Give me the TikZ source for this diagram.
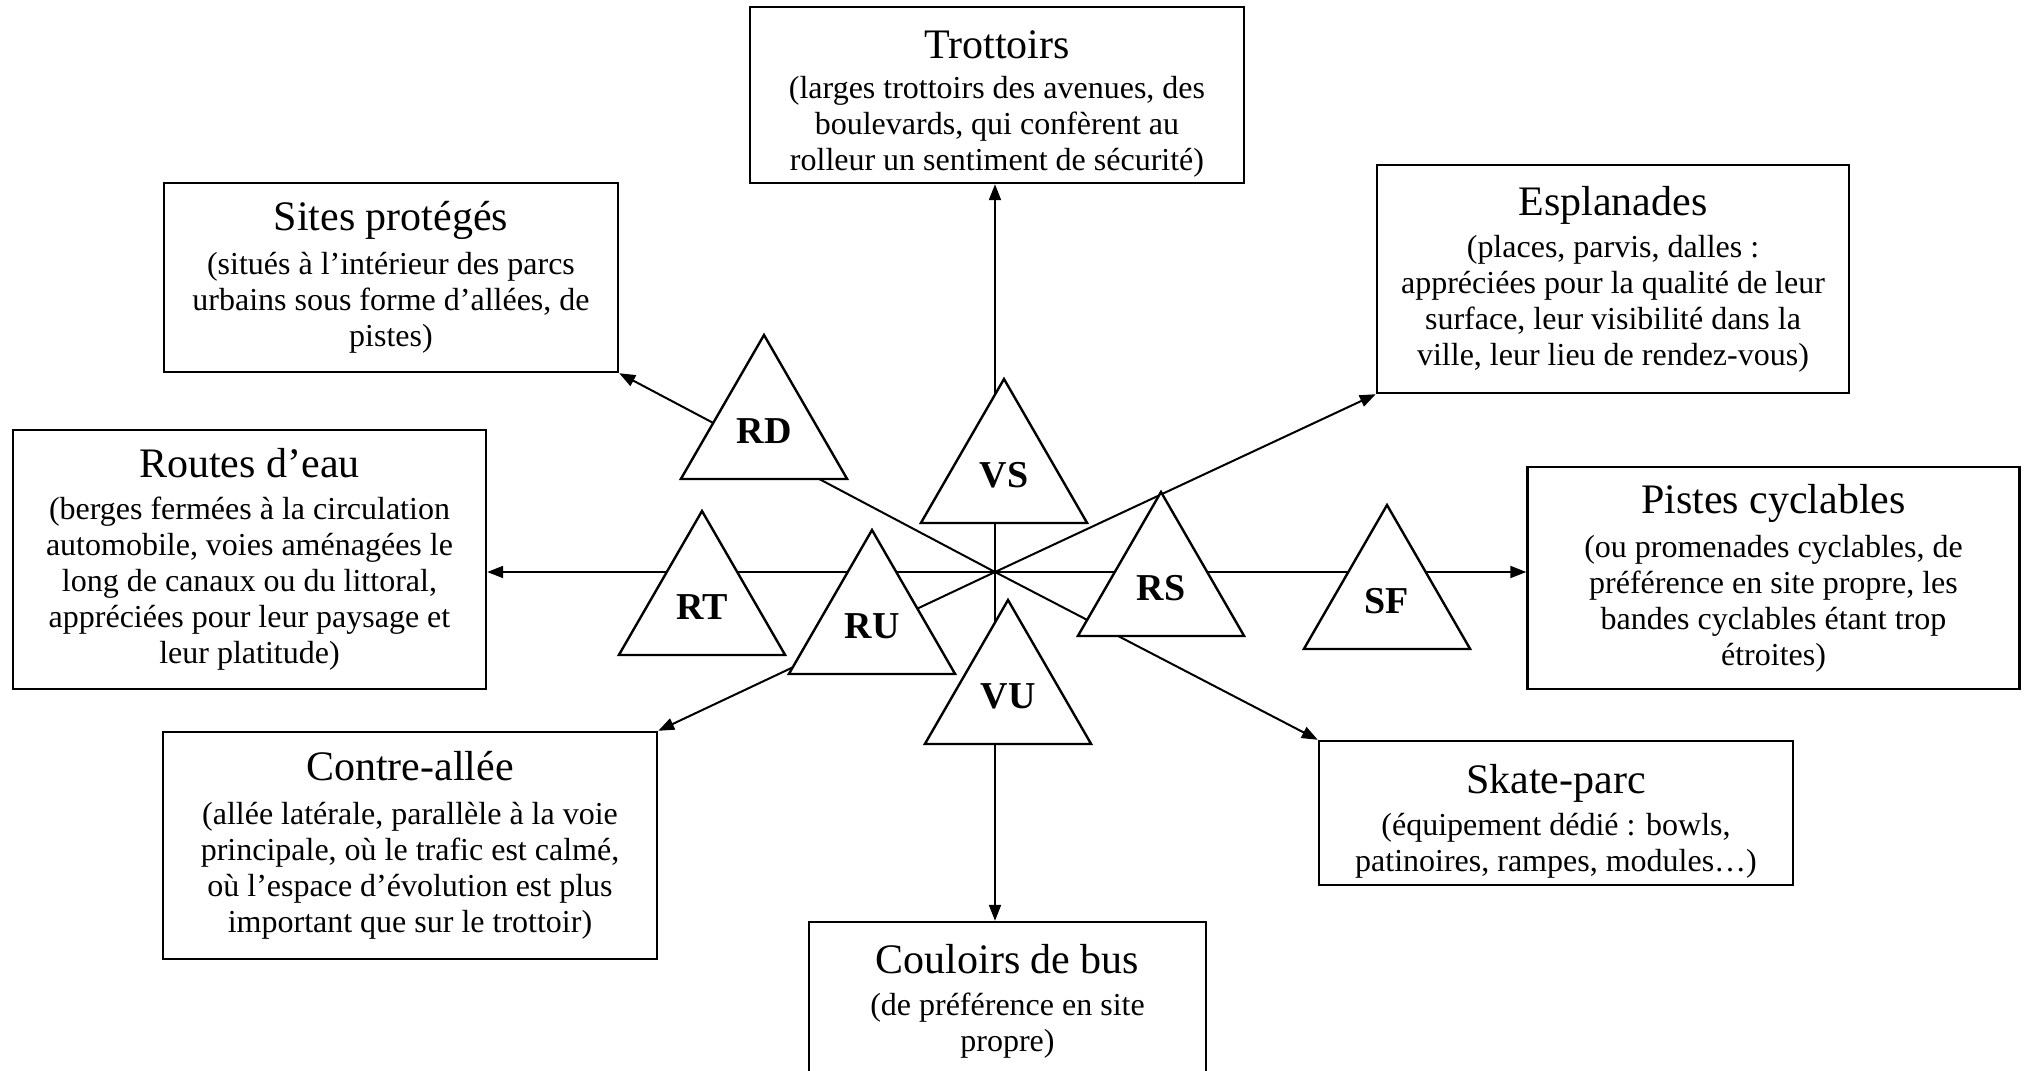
\documentclass[tikz,border=0pt]{standalone}
\usepackage{fontspec}
\setmainfont{Liberation Serif}
\usetikzlibrary{arrows.meta,shapes.geometric}
\newcommand\headfont{\fontsize{42}{46}\selectfont}
\newcommand\notefont{\fontsize{32}{36}\selectfont}
\begin{document}
\begin{tikzpicture}[x=1pt,y=-1pt,
  place/.style={draw, line width=2.4pt, rectangle, fill=white, inner sep=0pt,
    align=center, font=\notefont},
  link/.style={line width=2pt, -{Triangle[length=16pt,width=12pt]}},
  tri/.style={draw, line width=2.4pt, fill=white, regular polygon,
    regular polygon sides=3, minimum size=192pt, inner sep=0pt,
    font=\fontsize{38}{42}\selectfont\bfseries},
]
\useasboundingbox (0,0) rectangle (2027,1071);
\fill[white] (0,0) rectangle (2027,1071);

% destination boxes
\node[place, minimum width=494pt, minimum height=176pt] (trot) at (997,95)
  {{\headfont\rule{0pt}{45pt}Trottoirs}\\[4pt]
   (larges trottoirs des avenues, des\\
   boulevards, qui confèrent au\\
   rolleur un sentiment de sécurité)};
\node[place, minimum width=454pt, minimum height=189pt] (parc) at (391,277.5)
  {{\headfont Sites protégés}\\[8pt]
   (situés à l’intérieur des parcs\\
   urbains sous forme d’allées, de\\
   pistes)};
\node[place, minimum width=472pt, minimum height=228pt] (espl) at (1613,279)
  {{\headfont Esplanades}\\[6pt]
   (places, parvis, dalles :\\
   appréciées pour la qualité de leur\\
   surface, leur visibilité dans la\\
   ville, leur lieu de rendez-vous)};
\node[place, minimum width=473pt, minimum height=259pt] (eau) at (249.5,559.5)
  {{\headfont Routes d’eau}\\[6pt]
   (berges fermées à la circulation\\
   automobile, voies aménagées le\\
   long de canaux ou du littoral,\\
   appréciées pour leur paysage et\\
   leur platitude)};
\node[place, minimum width=492pt, minimum height=222pt] (velo) at (1773.5,578)
  {{\headfont Pistes cyclables}\\[8pt]
   (ou promenades cyclables, de\\
   préférence en site propre, les\\
   bandes cyclables étant trop\\
   étroites)};
\node[place, minimum width=494pt, minimum height=227pt] (contre) at (410,845.5)
  {{\headfont Contre-allée}\\[8pt]
   (allée latérale, parallèle à la voie\\
   principale, où le trafic est calmé,\\
   où l’espace d’évolution est plus\\
   important que sur le trottoir)};
\node[place, minimum width=474pt, minimum height=144pt] (skate) at (1556,813)
  {{\headfont\rule{0pt}{45pt}Skate-parc}\\[6pt]
   (équipement dédié : bowls,\\
   patinoires, rampes, modules…)};
\node[place, minimum width=397pt, minimum height=151pt] (bus) at (1007.5,997.5)
  {{\headfont\rule{0pt}{36pt}Couloirs de bus}\\[6pt]
   (de préférence en site\\
   propre)};

% connectors radiating from the hub
\coordinate (hub) at (995,572);
\draw[link] (hub) -- (hub |- trot.south);
\draw[link] (hub) -- (hub |- bus.north);
\draw[link] (hub) -- (hub -| eau.east);
\draw[link] (hub) -- (hub -| velo.west);
\draw[link] (hub) -- (parc.south east);
\draw[link] (hub) -- (skate.north west);
\draw[link] (hub) -- (contre.north east);
\draw[link] (hub) -- (espl.south west);

% triangles laid over the connectors
\node[tri] (rd) at (764,431) {RD};
\node[tri] (vs) at (1004,475) {VS};
\node[tri] (rt) at (702,607) {RT};
\node[tri] (ru) at (872,626) {RU};
\node[tri] (rs) at (1161,588) {RS};
\node[tri] (sf) at (1387,601) {SF};
\node[tri] (vu) at (1008,696) {VU};
\end{tikzpicture}
\end{document}
